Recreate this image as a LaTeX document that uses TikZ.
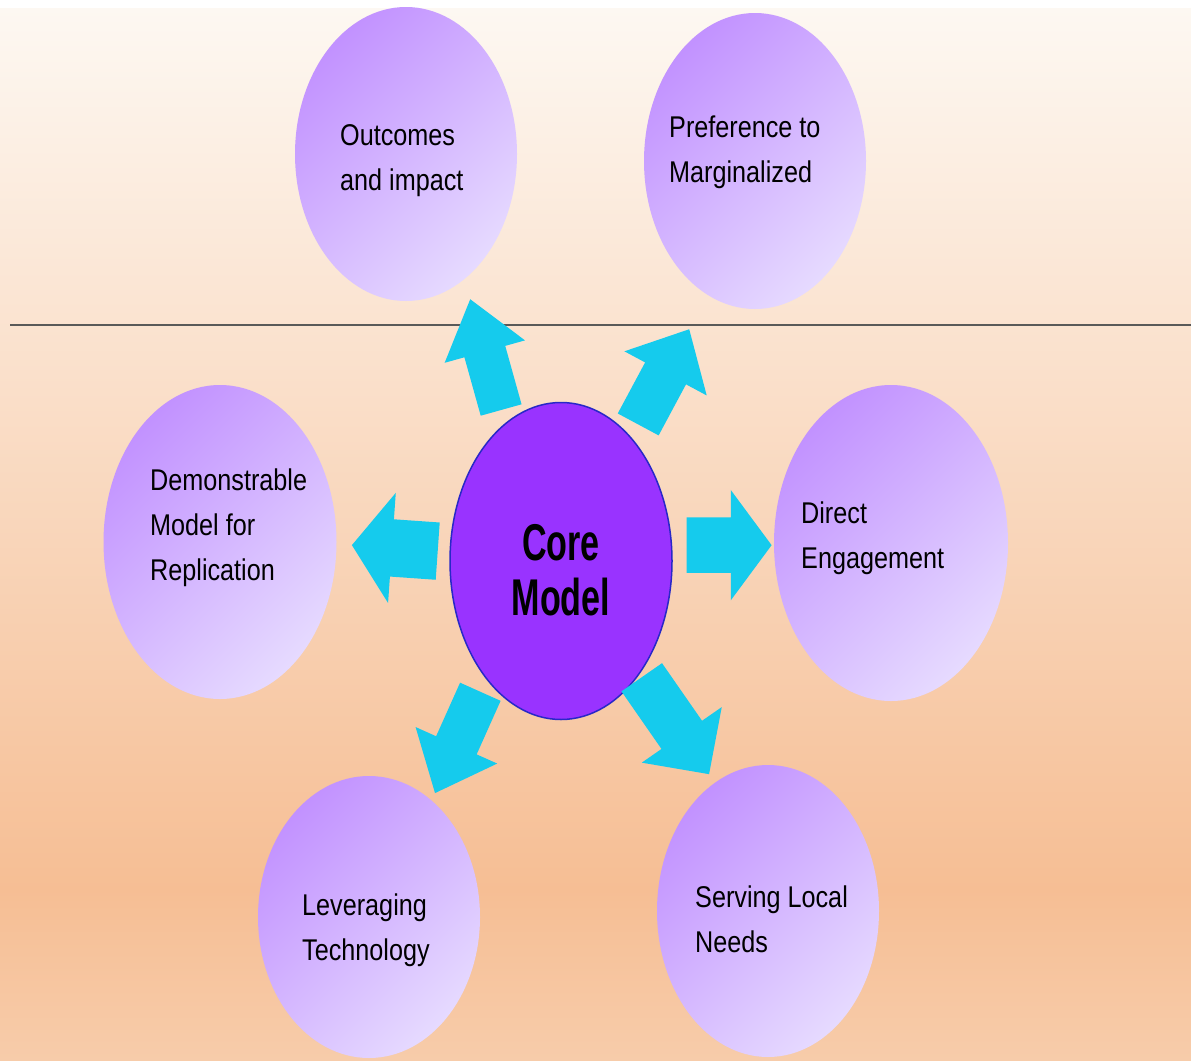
\documentclass[tikz,border=0pt]{standalone}
\usepackage{fontspec}
\setmainfont{Liberation Sans}[FakeStretch=0.84]
\newfontfamily\corefont{Liberation Sans}[FakeStretch=0.66]
\usetikzlibrary{shapes.geometric,shapes.arrows,calc}

\definecolor{bgtop}{RGB}{253,248,242}
\definecolor{bgmid}{RGB}{246,190,148}
\definecolor{bgbot}{RGB}{247,204,170}
\definecolor{bubdark}{RGB}{194,146,255}
\definecolor{bublight}{RGB}{230,218,255}
\definecolor{corefill}{RGB}{153,51,255}
\definecolor{coreline}{RGB}{40,40,200}
\definecolor{arrowblue}{RGB}{21,203,237}

\tikzset{
	bubble/.style={ellipse, inner sep=0pt, minimum width=222pt, minimum height=294pt,
		top color=bubdark, bottom color=bublight, shading angle=45},
	bubtext/.style={anchor=north west, inner sep=0pt, align=left,
		font=\fontsize{30}{45}\selectfont},
	flowarrow/.style={single arrow, fill=arrowblue, inner xsep=0pt, anchor=tail,
		single arrow head indent=0pt},
}

\begin{document}
\begin{tikzpicture}[x=1pt,y=-1pt]

	\useasboundingbox (0,0) rectangle (1191,1060);

	% background
	\fill[white] (0,0) rectangle (1191,1060);
	\shade[top color=bgtop,bottom color=bgmid] (0,8) rectangle (1191,890);
	\shade[top color=bgmid,bottom color=bgbot] (0,889) rectangle (1191,1060);
	\draw[black!65,line width=2pt] (10,325) -- (1191,325);

	% core and the six bubbles
	\node[ellipse, inner sep=0pt, minimum width=222pt, minimum height=317pt,
		fill=corefill, draw=coreline, line width=1.5pt] (core) at (561,561) {};
	\node[bubble] (outc) at (406,154) {};
	\node[bubble, minimum height=296pt] (pref) at (755,161) {};
	\node[bubble, minimum width=233pt, minimum height=314pt] (demo) at (220,542) {};
	\node[bubble, minimum width=234pt, minimum height=316pt] (dirc) at (891,543) {};
	\node[bubble, minimum height=282pt] (levr) at (369,917) {};
	\node[bubble, minimum height=292pt] (serv) at (768,911) {};

	% texts
	\node[anchor=north, align=center, inner sep=0pt,
		font=\corefont\bfseries\fontsize{51.7}{55}\selectfont] (core-txt) at ($(core)+(0,-37)$) {Core\\Model};
	\node[bubtext] (outc-txt) at ($(outc)+(-66,-30)$) {Outcomes\\and impact};
	\node[bubtext] (pref-txt) at ($(pref)+(-86,-45)$) {Preference to\\Marginalized};
	\node[bubtext] (demo-txt) at ($(demo)+(-70,-73)$) {Demonstrable\\Model for\\Replication};
	\node[bubtext] (dirc-txt) at ($(dirc)+(-90,-41)$) {Direct\\Engagement};
	\node[bubtext] (levr-txt) at ($(levr)+(-67,-23)$) {Leveraging\\Technology};
	\node[bubtext] (serv-txt) at ($(serv)+(-73,-25)$) {Serving Local\\Needs};

	% block arrows from the core
	\node[flowarrow, minimum height=115pt, inner ysep=21pt, single arrow head extend=20.5pt,
		single arrow tip angle=75, rotate=105.6] (ar-outc) at ($(core)!0.373!(outc)+(-2,1)$) {};
	\node[flowarrow, minimum height=108pt, inner ysep=23pt, single arrow head extend=23.5pt,
		single arrow tip angle=86, rotate=61.8] (ar-pref) at ($(core)!0.351!(pref)+(9,4)$) {};
	\node[flowarrow, minimum height=86pt, inner ysep=28.5pt, single arrow head extend=26.5pt,
		single arrow tip angle=108, rotate=176] (ar-demo) at ($(core)!0.361!(demo)+(0,-3)$) {};
	\node[flowarrow, minimum height=85pt, inner ysep=27.5pt, single arrow head extend=27.5pt,
		single arrow tip angle=107, rotate=0] (ar-dirc) at ($(core)!0.380!(dirc)+(0,-9)$) {};
	\node[flowarrow, minimum height=111pt, inner ysep=22pt, single arrow head extend=22.5pt,
		single arrow tip angle=81, rotate=-114.1] (ar-levr) at ($(core)!0.378!(levr)+(-8,-4)$) {};
	\node[flowarrow, minimum height=118pt, inner ysep=24.5pt, single arrow head extend=24pt,
		single arrow tip angle=91, rotate=-55.2] (ar-serv) at ($(core)!0.346!(serv)+(9,-5)$) {};

\end{tikzpicture}
\end{document}
